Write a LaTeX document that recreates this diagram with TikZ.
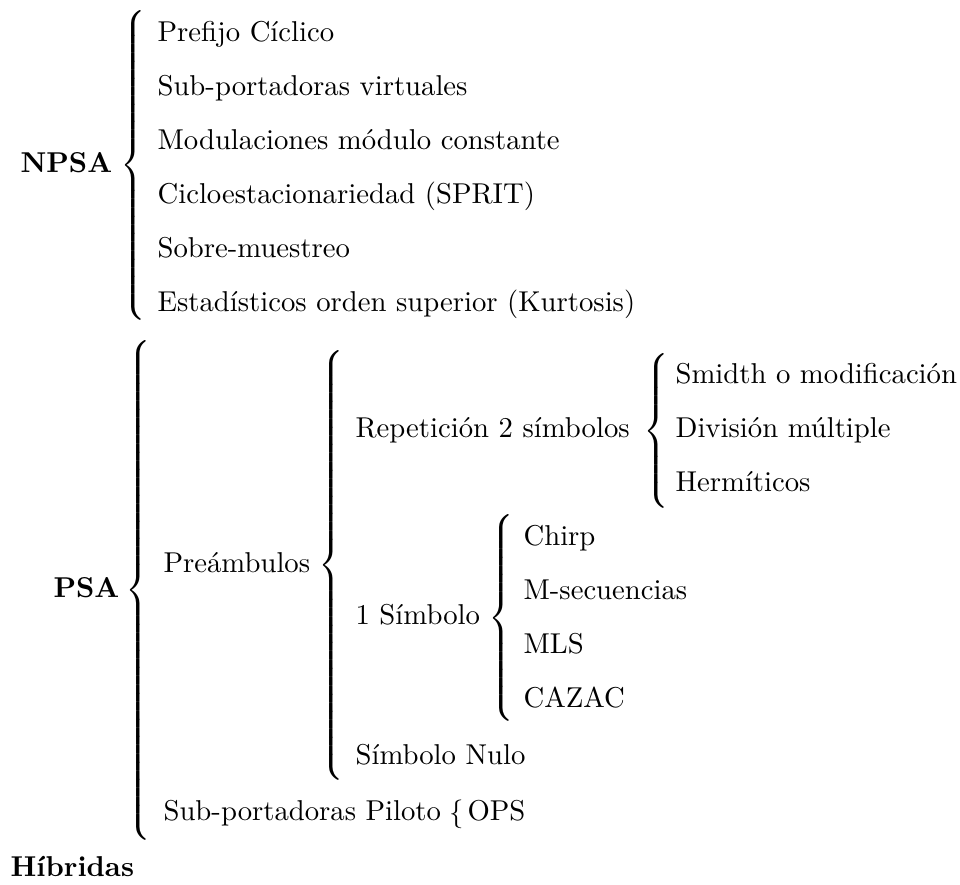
\documentclass[tikz,border=0pt]{standalone}
% extensible left brace, at least #1 tall, centred on the math axis
\newcommand\bracebox[1]{$\delimiterfactor=1000\delimitershortfall=0pt\left\{\vcenter{\hbox{\rule{0pt}{#1}}}\right.$}
\begin{document}
\begin{tikzpicture}[x=0.34843pt, y=-0.34843pt,
  lbl/.style={anchor=base west, inner sep=0pt},
  head/.style={lbl, font=\bfseries},
  brc/.style={anchor=west, inner sep=0pt, xshift=-0.6pt}]
\useasboundingbox (0,0) rectangle (960,885);

% NPSA branch
\node[head] (npsa) at (20,173) {NPSA};
\node[brc]  (bnpsa) at (122,165) {\bracebox{107.5pt}};
\node[lbl] (n1) at (157,42)  {Prefijo Cíclico};
\node[lbl] (n2) at (157,96)  {Sub-portadoras virtuales};
\node[lbl] (n3) at (157,150) {Modulaciones módulo constante};
\node[lbl] (n4) at (157,204) {Cicloestacionariedad (SPRIT)};
\node[lbl] (n5) at (157,258) {Sobre-muestreo};
\node[lbl] (n6) at (157,312) {Estadísticos orden superior (Kurtosis)};

% PSA branch
\node[head] (psa) at (53,598) {PSA};
\node[brc]  (bpsa) at (127,590.5) {\bracebox{169pt}};
\node[lbl] (pre) at (163,573) {Preámbulos};
\node[brc] (bpre) at (320,565.5) {\bracebox{147pt}};

\node[lbl] (rep) at (355,438) {Repetición 2 símbolos};
\node[brc] (brep) at (645,431) {\bracebox{50pt}};
\node[lbl] (r1) at (675,384) {Smidth o modificación};
\node[lbl] (r2) at (675,438) {División múltiple};
\node[lbl] (r3) at (675,492) {Hermíticos};

\node[lbl] (uno) at (355,625) {1 Símbolo};
\node[brc] (buno) at (490,618) {\bracebox{67pt}};
\node[lbl] (u1) at (523,546) {Chirp};
\node[lbl] (u2) at (523,600) {M-secuencias};
\node[lbl] (u3) at (523,654) {MLS};
\node[lbl] (u4) at (523,708) {CAZAC};

\node[lbl] (nulo) at (355,765) {Símbolo Nulo};

\node[lbl] (pil) at (163,821) {Sub-portadoras Piloto};
\node[brc, xshift=0pt] (bpil) at (451,814) {$\{$};
\node[lbl] (ops) at (467,821) {OPS};

% Hybrid branch
\node[head] (hib) at (10,877) {Híbridas};
\end{tikzpicture}
\end{document}
